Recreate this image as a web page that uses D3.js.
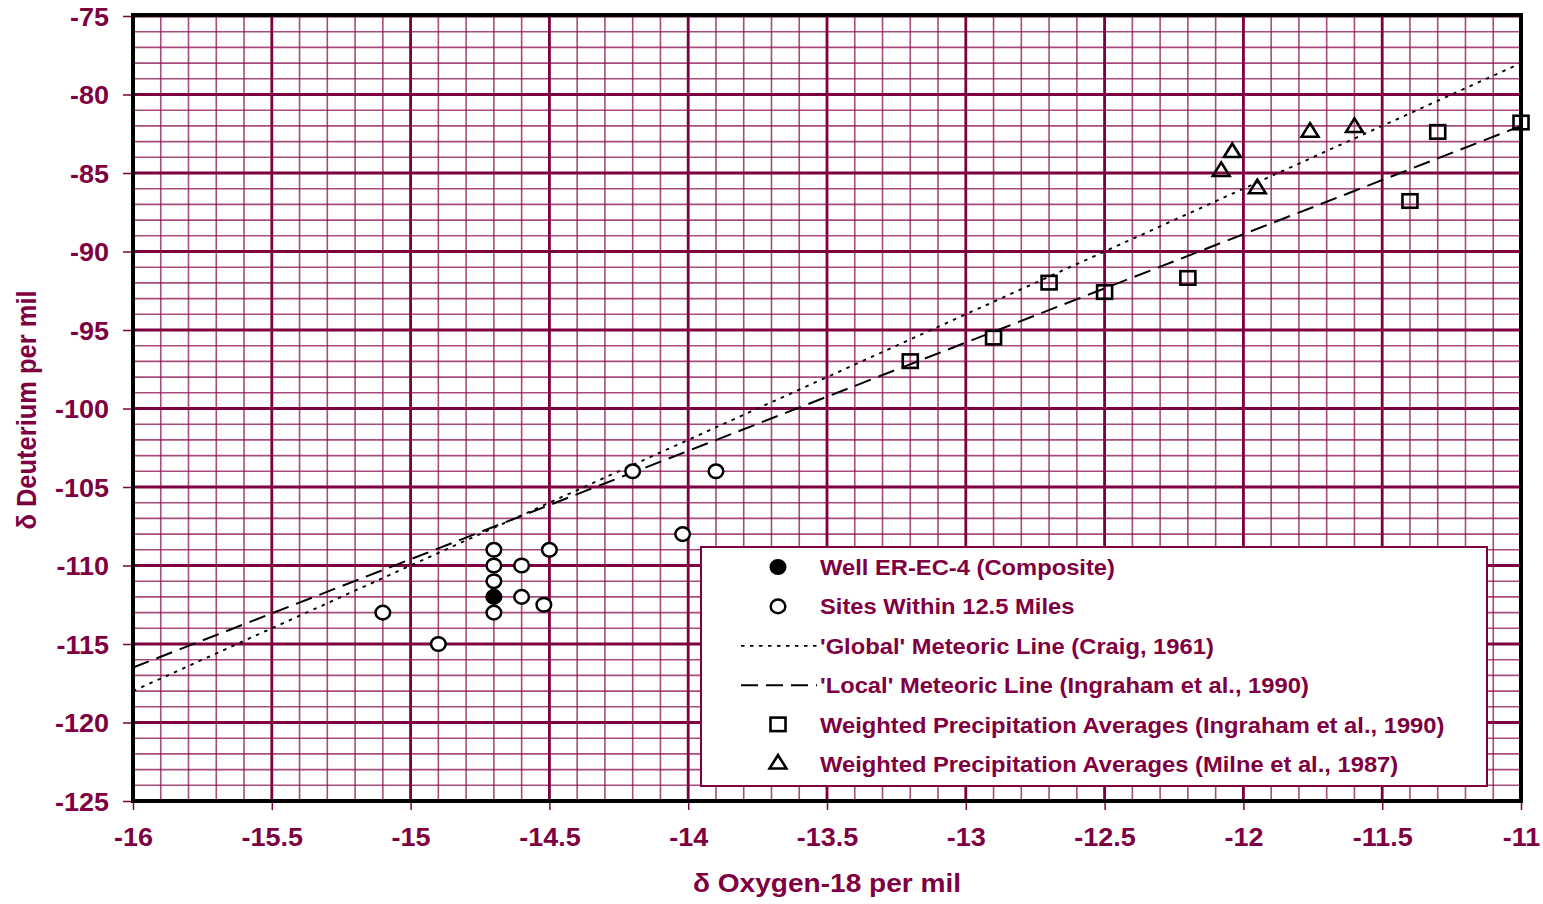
<!DOCTYPE html>
<html>
<head>
<meta charset="utf-8">
<script src="https://cdn.jsdelivr.net/npm/d3@7"></script>
<style>
  html, body { margin: 0; padding: 0; background: #fff; }
  svg { display: block; }
  text { font-family: "Liberation Sans", Arial, sans-serif; font-weight: bold; fill: #7f0040; }
</style>
</head>
<body>
<svg id="chart" width="1543" height="904"></svg>
<script>
// Axis domains and tick labels
const xTicks = [-16, -15.5, -15, -14.5, -14, -13.5, -13, -12.5, -12, -11.5, -11];
const yTicks = [-75, -80, -85, -90, -95, -100, -105, -110, -115, -120, -125];

// Well ER-EC-4 composite sample
const wellPoints = [[-14.7, -112]];

// Sites within 12.5 miles
const sitePoints = [
  [-15.1, -113], [-14.9, -115], [-14.7, -109], [-14.7, -110], [-14.7, -111],
  [-14.7, -113], [-14.6, -110], [-14.6, -112], [-14.52, -112.5], [-14.5, -109],
  [-14.2, -104], [-14.02, -108], [-13.9, -104]
];

// Weighted precipitation averages (Ingraham et al., 1990)
const ingrahamPoints = [
  [-13.2, -97], [-12.9, -95.5], [-12.7, -92], [-12.5, -92.6], [-12.2, -91.7],
  [-11.4, -86.8], [-11.3, -82.4], [-11.0, -81.8]
];

// Weighted precipitation averages (Milne et al., 1987)
const milnePoints = [
  [-12.08, -84.9], [-12.04, -83.7], [-11.95, -86.0], [-11.76, -82.4], [-11.6, -82.1]
];

// Meteoric water lines (end points across the plotted range)
const globalLine = [[-16, -118], [-11, -78]];
const localLine = [[-16, -116.5], [-11, -82]];

const legendItems = [
  { label: "Well ER-EC-4 (Composite)", kind: "filled" },
  { label: "Sites Within 12.5 Miles", kind: "circle" },
  { label: "'Global' Meteoric Line (Craig, 1961)", kind: "dotted" },
  { label: "'Local' Meteoric Line (Ingraham et al., 1990)", kind: "dashed" },
  { label: "Weighted Precipitation Averages (Ingraham et al., 1990)", kind: "square" },
  { label: "Weighted Precipitation Averages (Milne et al., 1987)", kind: "triangle" }
];

const maroon = "#7f0040";
const gridColor = "#8a1050";
const stretch = 1.08; // wide lettering used throughout the figure

const svg = d3.select("#chart");
const pLeft = 133, pRight = 1521, pTop = 16, pBottom = 801;

const x = d3.scaleLinear().domain([-16, -11]).range([pLeft, pRight]);
const y = d3.scaleLinear().domain([-125, -75]).range([pBottom, pTop]);

// Minor grid: every 0.1 on x, every 1 on y
const grid = svg.append("g");
const xMinor = d3.range(-160, -109, 1).map(v => v / 10);
const yMinor = d3.range(-125, -74, 1);
grid.selectAll(".vx").data(xMinor).enter().append("line")
  .attr("x1", d => x(d)).attr("x2", d => x(d))
  .attr("y1", pTop).attr("y2", pBottom)
  .attr("stroke", gridColor).attr("stroke-opacity", 0.75).attr("stroke-width", 1.6);
grid.selectAll(".hy").data(yMinor).enter().append("line")
  .attr("x1", pLeft).attr("x2", pRight)
  .attr("y1", d => y(d)).attr("y2", d => y(d))
  .attr("stroke", gridColor).attr("stroke-opacity", 0.75).attr("stroke-width", 1.6);
// Major grid
grid.selectAll(".mx").data(xTicks).enter().append("line")
  .attr("x1", d => x(d)).attr("x2", d => x(d))
  .attr("y1", pTop).attr("y2", pBottom)
  .attr("stroke", maroon).attr("stroke-width", 2.8);
grid.selectAll(".my").data(yTicks).enter().append("line")
  .attr("x1", pLeft).attr("x2", pRight)
  .attr("y1", d => y(d)).attr("y2", d => y(d))
  .attr("stroke", maroon).attr("stroke-width", 2.8);

// Axes with outward ticks; labels use a plain hyphen for the minus sign
const fmt = d => String(d);
const xAxis = d3.axisBottom(x).tickValues(xTicks).tickSize(9).tickPadding(18).tickFormat(fmt);
const yAxis = d3.axisLeft(y).tickValues(yTicks).tickSize(10).tickPadding(14).tickFormat(fmt);

const gx = svg.append("g").attr("transform", `translate(0,${pBottom})`).call(xAxis);
const gy = svg.append("g").attr("transform", `translate(${pLeft},0)`).call(yAxis);
[gx, gy].forEach(g => {
  g.select(".domain").remove();
  g.selectAll(".tick line").attr("stroke", maroon).attr("stroke-width", 1.5);
  g.selectAll(".tick text").style("font-size", "25px").attr("fill", maroon)
    .style("font-family", "'Liberation Sans', Arial, sans-serif").style("font-weight", "bold");
});
gx.selectAll(".tick text").attr("dy", "0.71em").attr("transform", `scale(${stretch},1)`);
gy.selectAll(".tick text").attr("dy", "0.36em")
  .attr("x", -24 / stretch).attr("transform", `scale(${stretch},1)`);

// Plot frame
svg.append("rect").attr("x", pLeft).attr("y", pTop - 1)
  .attr("width", pRight - pLeft).attr("height", pBottom - pTop + 1)
  .attr("fill", "none").attr("stroke", "#000").attr("stroke-width", 4);

// Meteoric lines
const line = d3.line().x(d => x(d[0])).y(d => y(d[1]));
svg.append("path").datum(globalLine).attr("d", line)
  .attr("fill", "none").attr("stroke", "#000").attr("stroke-width", 1.9)
  .attr("stroke-dasharray", "3.5,5.5");
svg.append("path").datum(localLine).attr("d", line)
  .attr("fill", "none").attr("stroke", "#000").attr("stroke-width", 2)
  .attr("stroke-dasharray", "17,8");

// Markers
const marks = svg.append("g");
function drawCircles(data, filled) {
  marks.selectAll(null).data(data).enter().append("ellipse")
    .attr("cx", d => x(d[0])).attr("cy", d => y(d[1])).attr("rx", 7.3).attr("ry", 6.8)
    .attr("fill", filled ? "#000" : "#fff").attr("stroke", "#000").attr("stroke-width", 2.5);
}
drawCircles(sitePoints, false);
drawCircles(wellPoints, true);

marks.selectAll(null).data(ingrahamPoints).enter().append("rect")
  .attr("x", d => x(d[0]) - 7.5).attr("y", d => y(d[1]) - 7)
  .attr("width", 15).attr("height", 13.5)
  .attr("fill", "none").attr("stroke", "#000").attr("stroke-width", 2.6);

const tri = d3.symbol().type(d3.symbolTriangle).size(105);
marks.selectAll(null).data(milnePoints).enter().append("path")
  .attr("d", tri)
  .attr("transform", d => `translate(${x(d[0])},${y(d[1])}) scale(${stretch},1)`)
  .attr("fill", "none").attr("stroke", "#000").attr("stroke-width", 2.5);

// Legend
const lg = svg.append("g");
lg.append("rect").attr("x", 701).attr("y", 547).attr("width", 786).attr("height", 239)
  .attr("fill", "#fff").attr("stroke", maroon).attr("stroke-width", 2);
const rowY = i => 567 + i * 39.4;
const symX = 778;
legendItems.forEach((it, i) => {
  const cy = rowY(i);
  if (it.kind === "filled" || it.kind === "circle") {
    lg.append("ellipse").attr("cx", symX).attr("cy", cy).attr("rx", 7.3).attr("ry", 6.8)
      .attr("fill", it.kind === "filled" ? "#000" : "#fff")
      .attr("stroke", "#000").attr("stroke-width", 2.5);
  } else if (it.kind === "square") {
    lg.append("rect").attr("x", symX - 7.5).attr("y", cy - 7).attr("width", 15).attr("height", 13.5)
      .attr("fill", "none").attr("stroke", "#000").attr("stroke-width", 2.6);
  } else if (it.kind === "triangle") {
    lg.append("path").attr("d", tri).attr("transform", `translate(${symX},${cy}) scale(${stretch},1)`)
      .attr("fill", "none").attr("stroke", "#000").attr("stroke-width", 2.5);
  } else {
    lg.append("line").attr("x1", 741).attr("x2", 817).attr("y1", cy).attr("y2", cy)
      .attr("stroke", "#000")
      .attr("stroke-width", it.kind === "dotted" ? 1.7 : 2)
      .attr("stroke-dasharray", it.kind === "dotted" ? "3.5,5.5" : "17,8");
  }
  lg.append("g").attr("transform", `translate(820,${cy}) scale(${stretch},1)`)
    .append("text").attr("dy", "0.36em").style("font-size", "22px").text(it.label);
});

// Axis titles
svg.append("g").attr("transform", `translate(827,892) scale(${stretch},1)`)
  .append("text").attr("text-anchor", "middle").style("font-size", "26px")
  .text("δ Oxygen-18 per mil");
svg.append("g").attr("transform", `translate(36,410) rotate(-90) scale(1,${stretch})`)
  .append("text").attr("text-anchor", "middle").style("font-size", "25.5px")
  .text("δ Deuterium per mil");
</script>
</body>
</html>
